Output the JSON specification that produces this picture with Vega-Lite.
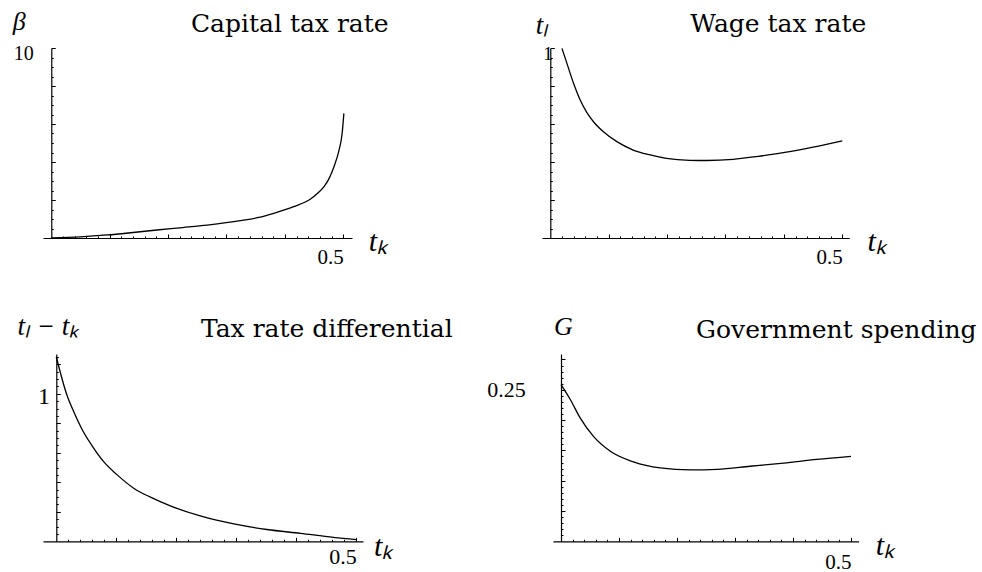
{
  "$schema": "https://vega.github.io/schema/vega-lite/v6.json",
  "autosize": {"type": "pad"},
  "padding": {"left": 12, "top": 8, "right": 0, "bottom": 0},
  "background": "white",
  "config": {
    "view": {"stroke": null},
    "axis": {
      "grid": false, "domainColor": "black", "tickColor": "black", "labelColor": "black", "titleColor": "black",
      "domainWidth": 1.2, "tickWidth": 1, "labelFont": "Liberation Serif", "labelFontSize": 21,
      "titleFont": "Liberation Serif", "titleFontWeight": "normal", "titleFontStyle": "italic", "titleFontSize": 27,
      "labelOverlap": false, "labelBound": false, "labelFlush": false
    },
    "line": {"color": "black", "strokeWidth": 1.3}
  },
  "datasets": {
    "beta": [
      {"t": 0, "v": 0}, {"t": 0.05, "v": 0.06}, {"t": 0.096, "v": 0.16}, {"t": 0.14, "v": 0.29}, {"t": 0.181, "v": 0.42},
      {"t": 0.225, "v": 0.55}, {"t": 0.267, "v": 0.68}, {"t": 0.324, "v": 0.91}, {"t": 0.355, "v": 1.08}, {"t": 0.381, "v": 1.3},
      {"t": 0.415, "v": 1.65}, {"t": 0.444, "v": 2.05}, {"t": 0.456, "v": 2.35}, {"t": 0.467, "v": 2.7}, {"t": 0.476, "v": 3.15},
      {"t": 0.484, "v": 3.75}, {"t": 0.4925, "v": 4.6}, {"t": 0.498, "v": 5.5}, {"t": 0.501, "v": 6.56}
    ],
    "tl": [
      {"t": 0.02, "v": 0.998}, {"t": 0.0285, "v": 0.919}, {"t": 0.0398, "v": 0.814}, {"t": 0.0512, "v": 0.726}, {"t": 0.0627, "v": 0.66},
      {"t": 0.074, "v": 0.612}, {"t": 0.091, "v": 0.559}, {"t": 0.114, "v": 0.507}, {"t": 0.142, "v": 0.463}, {"t": 0.171, "v": 0.437},
      {"t": 0.199, "v": 0.419}, {"t": 0.239, "v": 0.409}, {"t": 0.268, "v": 0.408}, {"t": 0.313, "v": 0.414}, {"t": 0.356, "v": 0.43},
      {"t": 0.399, "v": 0.449}, {"t": 0.45, "v": 0.478}, {"t": 0.5, "v": 0.511}
    ],
    "diff": [
      {"t": 0, "v": 1.25}, {"t": 0.0178, "v": 0.99}, {"t": 0.0289, "v": 0.88}, {"t": 0.0428, "v": 0.76}, {"t": 0.0594, "v": 0.649},
      {"t": 0.0789, "v": 0.54}, {"t": 0.101, "v": 0.452}, {"t": 0.129, "v": 0.36}, {"t": 0.157, "v": 0.299}, {"t": 0.19, "v": 0.24},
      {"t": 0.24, "v": 0.172}, {"t": 0.296, "v": 0.118}, {"t": 0.351, "v": 0.08}, {"t": 0.407, "v": 0.054}, {"t": 0.462, "v": 0.027},
      {"t": 0.5, "v": 0.012}
    ],
    "gov": [
      {"t": 0, "v": 0.2586}, {"t": 0.016, "v": 0.234}, {"t": 0.033, "v": 0.2035}, {"t": 0.056, "v": 0.173}, {"t": 0.085, "v": 0.1485},
      {"t": 0.125, "v": 0.131}, {"t": 0.171, "v": 0.121}, {"t": 0.223, "v": 0.1177}, {"t": 0.269, "v": 0.1188}, {"t": 0.326, "v": 0.1238},
      {"t": 0.384, "v": 0.129}, {"t": 0.441, "v": 0.135}, {"t": 0.5, "v": 0.14}
    ]
  },
  "spacing": 42,
  "vconcat": [
    {
      "spacing": 190,
      "bounds": "flush",
      "hconcat": [
        {
          "width": 309, "height": 190,
          "data": {"name": "beta"},
          "encoding": {
            "y": {"field": "v", "type": "quantitative", "scale": {"domain": [0, 10], "nice": false, "zero": false},
              "axis": {"orient": "left", "offset": -8.3,
                "values": [0.5,1,1.5,2,2.5,3,3.5,4,4.5,5,5.5,6,6.5,7,7.5,8,8.5,9,9.5,10],
                "tickSize": {"condition": {"test": "abs(datum.value/2 - round(datum.value/2)) < 0.001", "value": -4}, "value": -2},
                "labelExpr": "abs(datum.value-10) < 0.001 ? '10' : ''", "labelAlign": "right", "labelBaseline": "alphabetic",
                "labelOffset": 11.3, "labelPadding": 22, "labelFontSize": 20,
                "title": "β", "titleAngle": 0, "titleX": -39, "titleY": -18.5, "titleAlign": "left", "titleBaseline": "alphabetic", "titleFontSize": 26}}
          },
          "layer": [
            {
              "mark": {"type": "line", "interpolate": "monotone"},
              "encoding": {
                "x": {"field": "t", "type": "quantitative", "scale": {"domain": [-0.0142, 0.5149], "nice": false, "zero": false},
                  "axis": {"orient": "bottom",
                    "values": [0.02,0.04,0.06,0.08,0.1,0.12,0.14,0.16,0.18,0.2,0.22,0.24,0.26,0.28,0.3,0.32,0.34,0.36,0.38,0.4,0.42,0.44,0.46,0.48,0.5],
                    "tickSize": {"condition": {"test": "abs(datum.value*10 - round(datum.value*10)) < 0.001", "value": -4}, "value": -2},
                    "labelExpr": "datum.value == 0.5 ? '0.5' : ''", "labelAlign": "right", "labelDx": 2, "labelBaseline": "alphabetic", "labelPadding": 29.3,
                    "title": "tₖ", "titleX": 325.3, "titleY": 12.7, "titleAlign": "left", "titleBaseline": "alphabetic", "titleFontSize": 30}}
              }
            },
            {
              "mark": {"type": "line", "opacity": 0},
              "encoding": {
                "x": {"field": "t", "type": "quantitative", "scale": {"domain": [-0.0142, 0.5149], "nice": false, "zero": false},
                  "axis": {"orient": "top", "domain": false, "ticks": false, "labels": false,
                    "title": "Capital tax rate", "titleX": 246.3, "titleY": -16.5, "titleAlign": "center", "titleBaseline": "alphabetic",
                    "titleFont": "DejaVu Serif", "titleFontStyle": "normal", "titleFontSize": 25}}
              }
            }
          ],
          "resolve": {"axis": {"x": "independent"}}
        },
        {
          "width": 307.3, "height": 190,
          "data": {"name": "tl"},
          "encoding": {
            "y": {"field": "v", "type": "quantitative", "scale": {"domain": [0, 1], "nice": false, "zero": false},
              "axis": {"orient": "left", "offset": -8.3,
                "values": [0.05,0.1,0.15,0.2,0.25,0.3,0.35,0.4,0.45,0.5,0.55,0.6,0.65,0.7,0.75,0.8,0.85,0.9,0.95,1],
                "tickSize": {"condition": {"test": "abs(datum.value*5 - round(datum.value*5)) < 0.001", "value": -4}, "value": -2},
                "labelExpr": "abs(datum.value-1) < 0.001 ? '1' : ''", "labelAlign": "right", "labelBaseline": "alphabetic",
                "labelOffset": 11.3, "labelPadding": 2, "labelFontSize": 19,
                "title": "tₗ", "titleAngle": 0, "titleX": -15, "titleY": -14.7, "titleAlign": "left", "titleBaseline": "alphabetic", "titleFontSize": 27}}
          },
          "layer": [
            {
              "mark": {"type": "line", "interpolate": "monotone"},
              "encoding": {
                "x": {"field": "t", "type": "quantitative", "scale": {"domain": [-0.0142, 0.512], "nice": false, "zero": false},
                  "axis": {"orient": "bottom",
                    "values": [0.02,0.04,0.06,0.08,0.1,0.12,0.14,0.16,0.18,0.2,0.22,0.24,0.26,0.28,0.3,0.32,0.34,0.36,0.38,0.4,0.42,0.44,0.46,0.48,0.5],
                    "tickSize": {"condition": {"test": "abs(datum.value*10 - round(datum.value*10)) < 0.001", "value": -4}, "value": -2},
                    "labelExpr": "datum.value == 0.5 ? '0.5' : ''", "labelAlign": "right", "labelDx": 2, "labelBaseline": "alphabetic", "labelPadding": 29.3,
                    "title": "tₖ", "titleX": 325, "titleY": 12.7, "titleAlign": "left", "titleBaseline": "alphabetic", "titleFontSize": 30}}
              }
            },
            {
              "mark": {"type": "line", "opacity": 0},
              "encoding": {
                "x": {"field": "t", "type": "quantitative", "scale": {"domain": [-0.0142, 0.512], "nice": false, "zero": false},
                  "axis": {"orient": "top", "domain": false, "ticks": false, "labels": false,
                    "title": "Wage tax rate", "titleX": 235.8, "titleY": -16.3, "titleAlign": "center", "titleBaseline": "alphabetic",
                    "titleFont": "DejaVu Serif", "titleFontStyle": "normal", "titleFontSize": 25}}
              }
            }
          ],
          "resolve": {"axis": {"x": "independent"}}
        }
      ]
    },
    {
      "spacing": 190,
      "bounds": "flush",
      "hconcat": [
        {
          "width": 320, "height": 187.3,
          "data": {"name": "diff"},
          "encoding": {
            "y": {"field": "v", "type": "quantitative", "scale": {"domain": [0, 1.27], "nice": false, "zero": false},
              "axis": {"orient": "left", "offset": -13.3,
                "values": [0.05,0.1,0.15,0.2,0.25,0.3,0.35,0.4,0.45,0.5,0.55,0.6,0.65,0.7,0.75,0.8,0.85,0.9,0.95,1,1.05,1.1,1.15,1.2,1.25],
                "tickSize": {"condition": {"test": "abs(datum.value*5 - round(datum.value*5)) < 0.001", "value": -4}, "value": -2},
                "labelExpr": "abs(datum.value-1) < 0.001 ? '1' : ''", "labelAlign": "right", "labelBaseline": "alphabetic",
                "labelOffset": 10, "labelPadding": 10.7, "labelFontSize": 24,
                "title": "tₗ − tₖ", "titleAngle": 0, "titleX": -39.3, "titleY": -19.4, "titleAlign": "left", "titleBaseline": "alphabetic", "titleFontSize": 27}}
          },
          "layer": [
            {
              "mark": {"type": "line", "interpolate": "monotone"},
              "encoding": {
                "x": {"field": "t", "type": "quantitative", "scale": {"domain": [-0.0222, 0.5112], "nice": false, "zero": false},
                  "axis": {"orient": "bottom",
                    "values": [0.02,0.04,0.06,0.08,0.1,0.12,0.14,0.16,0.18,0.2,0.22,0.24,0.26,0.28,0.3,0.32,0.34,0.36,0.38,0.4,0.42,0.44,0.46,0.48,0.5],
                    "tickSize": {"condition": {"test": "abs(datum.value*10 - round(datum.value*10)) < 0.001", "value": -4}, "value": -2},
                    "labelExpr": "datum.value == 0.5 ? '0.5' : ''", "labelAlign": "right", "labelDx": 2, "labelBaseline": "alphabetic", "labelPadding": 25.7, "labelFontSize": 22,
                    "title": "tₖ", "titleX": 330.6, "titleY": 14, "titleAlign": "left", "titleBaseline": "alphabetic", "titleFontSize": 30}}
              }
            },
            {
              "mark": {"type": "line", "opacity": 0},
              "encoding": {
                "x": {"field": "t", "type": "quantitative", "scale": {"domain": [-0.0222, 0.5112], "nice": false, "zero": false},
                  "axis": {"orient": "top", "domain": false, "ticks": false, "labels": false,
                    "title": "Tax rate differential", "titleX": 283.3, "titleY": -17.7, "titleAlign": "center", "titleBaseline": "alphabetic",
                    "titleFont": "DejaVu Serif", "titleFontStyle": "normal", "titleFontSize": 25}}
              }
            }
          ],
          "resolve": {"axis": {"x": "independent"}}
        },
        {
          "width": 305.6, "height": 187.3,
          "data": {"name": "gov"},
          "encoding": {
            "y": {"field": "v", "type": "quantitative", "scale": {"domain": [0, 0.309], "nice": false, "zero": false},
              "axis": {"orient": "left", "offset": -8,
                "values": [0.01,0.02,0.03,0.04,0.05,0.06,0.07,0.08,0.09,0.1,0.11,0.12,0.13,0.14,0.15,0.16,0.17,0.18,0.19,0.2,0.21,0.22,0.23,0.24,0.25,0.26,0.27,0.28,0.29,0.3],
                "tickSize": {"condition": {"test": "abs(datum.value*20 - round(datum.value*20)) < 0.001", "value": -4}, "value": -2},
                "labelExpr": "abs(datum.value-0.25) < 0.0001 ? '0.25' : ''", "labelAlign": "right", "labelBaseline": "alphabetic",
                "labelOffset": 6.7, "labelPadding": 39.7, "labelFontSize": 22,
                "title": "G", "titleAngle": 0, "titleX": -7.4, "titleY": -19.4, "titleAlign": "left", "titleBaseline": "alphabetic", "titleFontSize": 26}}
          },
          "layer": [
            {
              "mark": {"type": "line", "interpolate": "monotone"},
              "encoding": {
                "x": {"field": "t", "type": "quantitative", "scale": {"domain": [-0.0138, 0.5131], "nice": false, "zero": false},
                  "axis": {"orient": "bottom",
                    "values": [0.02,0.04,0.06,0.08,0.1,0.12,0.14,0.16,0.18,0.2,0.22,0.24,0.26,0.28,0.3,0.32,0.34,0.36,0.38,0.4,0.42,0.44,0.46,0.48,0.5],
                    "tickSize": {"condition": {"test": "abs(datum.value*10 - round(datum.value*10)) < 0.001", "value": -4}, "value": -2},
                    "labelExpr": "datum.value == 0.5 ? '0.5' : ''", "labelAlign": "right", "labelDx": 2, "labelBaseline": "alphabetic", "labelPadding": 30.7,
                    "title": "tₖ", "titleX": 322.3, "titleY": 13.3, "titleAlign": "left", "titleBaseline": "alphabetic", "titleFontSize": 30}}
              }
            },
            {
              "mark": {"type": "line", "opacity": 0},
              "encoding": {
                "x": {"field": "t", "type": "quantitative", "scale": {"domain": [-0.0138, 0.5131], "nice": false, "zero": false},
                  "axis": {"orient": "top", "domain": false, "ticks": false, "labels": false,
                    "title": "Government spending", "titleX": 282.8, "titleY": -16.7, "titleAlign": "center", "titleBaseline": "alphabetic",
                    "titleFont": "DejaVu Serif", "titleFontStyle": "normal", "titleFontSize": 25}}
              }
            }
          ],
          "resolve": {"axis": {"x": "independent"}}
        }
      ]
    }
  ]
}
